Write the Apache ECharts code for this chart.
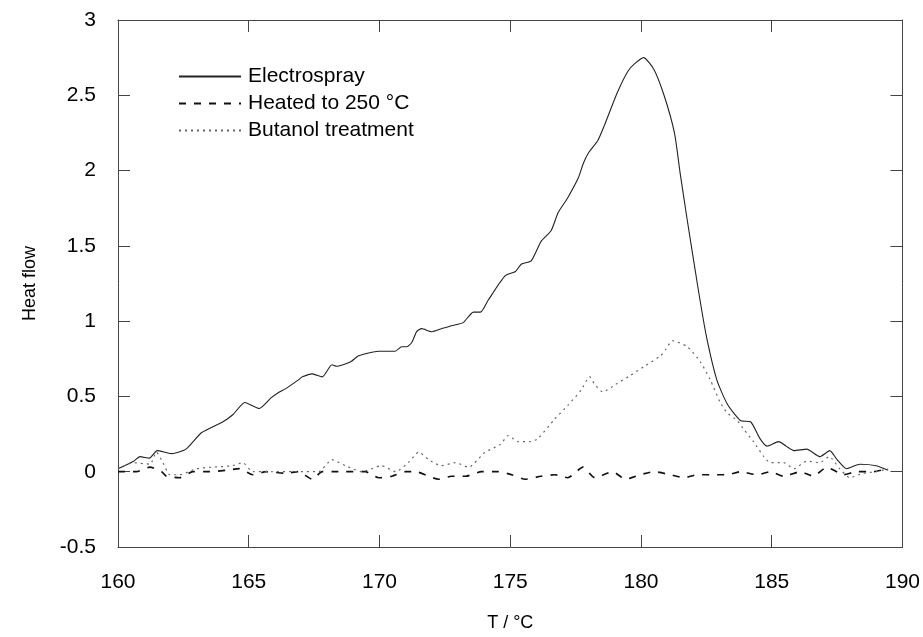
<!DOCTYPE html>
<html>
<head>
<meta charset="utf-8">
<script src="https://cdn.jsdelivr.net/npm/echarts@6/dist/echarts.min.js"></script>
<style>
html,body{margin:0;padding:0;background:#fff;}
#chart{width:923px;height:637px;}
</style>
</head>
<body>
<div id="chart"></div>
<script>
// Electrospray (solid)
const esT = [160.0,160.6,160.84,161.2,161.5,162.05,162.6,163.2,164.0,164.4,164.85,165.4,165.85,166.17,166.4,166.9,167.05,167.43,167.81,168.18,168.37,168.9,169.2,169.97,170.6,170.85,171.05,171.24,171.42,171.61,172.0,172.37,172.75,173.2,173.59,173.86,174.16,174.8,175.2,175.43,175.8,176.18,176.56,176.83,177.2,177.6,177.8,178.0,178.35,178.6,179.1,179.5,179.76,180.1,180.5,180.9,181.28,181.5,181.77,182.2,182.5,182.9,183.3,183.8,184.2,184.55,184.82,185.27,185.55,185.85,186.34,186.84,187.22,187.5,187.86,188.37,189.0,189.45];
const esY = [0.02,0.07,0.10,0.09,0.14,0.12,0.15,0.26,0.33,0.38,0.46,0.42,0.49,0.53,0.55,0.61,0.63,0.65,0.63,0.71,0.70,0.73,0.77,0.80,0.80,0.83,0.83,0.86,0.93,0.95,0.93,0.95,0.97,0.99,1.06,1.06,1.14,1.30,1.33,1.38,1.40,1.53,1.60,1.72,1.82,1.95,2.05,2.12,2.20,2.30,2.52,2.66,2.71,2.75,2.67,2.49,2.25,1.98,1.67,1.20,0.90,0.61,0.45,0.34,0.33,0.22,0.17,0.20,0.17,0.14,0.15,0.10,0.14,0.08,0.02,0.05,0.04,0.01];
// Heated to 250 °C (dashed)
const htT = [160.0,160.7,161.22,161.67,161.85,162.36,162.86,163.5,164.13,164.64,165.15,165.66,166.42,166.9,167.43,167.81,168.18,168.7,169.46,169.97,170.47,171.0,171.37,172.26,172.75,173.3,173.9,174.54,175.05,175.57,176.18,176.7,177.2,177.78,178.23,178.92,179.41,179.98,180.5,181.13,181.64,182.15,182.77,183.3,183.8,184.44,184.94,185.46,186.08,186.6,187.1,187.75,188.25,188.9,189.4];
const htY = [0.0,0.0,0.03,0.0,-0.03,-0.04,0.0,0.0,0.01,0.02,-0.02,0.0,-0.01,0.0,-0.05,0.0,0.0,0.0,0.0,-0.04,-0.03,0.0,0.0,-0.05,-0.03,-0.03,0.0,0.0,-0.02,-0.05,-0.03,-0.02,-0.04,0.03,-0.04,0.0,-0.05,-0.02,0.0,-0.02,-0.04,-0.02,-0.02,-0.02,0.0,-0.02,0.0,-0.03,0.0,-0.03,0.03,-0.02,0.0,0.0,0.02];
// Butanol treatment (dotted)
const buT = [160.0,160.58,161.22,161.47,161.72,161.98,162.36,163.0,163.6,164.38,164.77,165.15,165.9,166.67,167.2,167.68,168.18,168.7,169.33,170.08,170.62,171.1,171.5,171.88,172.37,172.9,173.4,174.04,174.62,174.92,175.3,175.76,176.06,176.7,177.2,177.7,178.04,178.23,178.54,179.03,179.6,180.13,180.75,180.94,181.2,181.77,182.27,182.65,183.03,183.3,183.68,183.94,184.3,184.7,184.94,185.46,185.85,186.34,186.84,187.2,187.6,187.98,188.5,189.0,189.45];
const buY = [0.02,0.06,0.05,0.13,0.06,-0.02,-0.02,0.02,0.03,0.04,0.06,0.0,0.0,0.0,0.0,0.0,0.08,0.04,0.0,0.04,0.0,0.06,0.13,0.08,0.04,0.06,0.03,0.13,0.18,0.24,0.20,0.20,0.22,0.35,0.44,0.54,0.63,0.58,0.53,0.58,0.64,0.70,0.77,0.81,0.87,0.83,0.73,0.61,0.46,0.39,0.34,0.28,0.20,0.10,0.06,0.06,0.02,0.07,0.06,0.10,0.02,-0.04,-0.01,0.00,0.02];
const seriesNames = ['Electrospray','Heated to 250 °C','Butanol treatment'];
const xTicks = {min:160, max:190, step:5};
const yTicks = {min:-0.5, max:3, step:0.5};

const zip = (a,b) => a.map((v,i) => [v,b[i]]);
const font = 'Liberation Sans, Arial, sans-serif';
const axisColor = '#444';

const chart = echarts.init(document.getElementById('chart'), null, {renderer:'canvas'});
const baseX = {
  type:'value', min:xTicks.min, max:xTicks.max, interval:xTicks.step,
  axisLine:{show:true, onZero:false, lineStyle:{color:axisColor, width:1}},
  axisTick:{show:true, inside:true, length:12, lineStyle:{color:axisColor}},
  splitLine:{show:false}
};
const baseY = {
  type:'value', min:yTicks.min, max:yTicks.max, interval:yTicks.step,
  axisLine:{show:true, onZero:false, lineStyle:{color:axisColor, width:1}},
  axisTick:{show:true, inside:true, length:12, lineStyle:{color:axisColor}},
  splitLine:{show:false}
};
chart.setOption({
  animation:false,
  backgroundColor:'#fff',
  grid:{left:118, right:17, top:20, bottom:89, containLabel:false},
  legend:{
    orient:'vertical', left:178, top:66, padding:0, itemWidth:62, itemHeight:14, itemGap:6,
    itemStyle:{opacity:0},
    textStyle:{fontFamily:font, fontSize:21, color:'#000', padding:[0,0,0,2]},
    data:seriesNames
  },
  xAxis:[
    Object.assign({}, baseX, {
      position:'bottom', name:'T / °C', nameLocation:'middle', nameGap:67,
      nameTextStyle:{fontFamily:font, fontSize:18, color:'#000'},
      axisLabel:{fontFamily:font, fontSize:21, color:'#000', margin:25}
    }),
    Object.assign({}, baseX, {position:'top', axisLabel:{show:false}})
  ],
  yAxis:[
    Object.assign({}, baseY, {
      position:'left', name:'Heat flow', nameLocation:'middle', nameGap:79,
      nameTextStyle:{fontFamily:font, fontSize:18, color:'#000'},
      axisLabel:{fontFamily:font, fontSize:21, color:'#000', margin:22}
    }),
    Object.assign({}, baseY, {position:'right', axisLabel:{show:false}})
  ],
  series:[
    {name:seriesNames[0], type:'line', data:zip(esT,esY), showSymbol:false, symbol:'none', smooth:0.2,
     lineStyle:{color:'#222', width:1.1, type:'solid'}, itemStyle:{color:'#222'}},
    {name:seriesNames[1], type:'line', data:zip(htT,htY), showSymbol:false, symbol:'none', smooth:0.2,
     lineStyle:{color:'#111', width:1.7, type:[7,8]}, itemStyle:{color:'#111'}},
    {name:seriesNames[2], type:'line', data:zip(buT,buY), showSymbol:false, symbol:'none', smooth:0.2,
     lineStyle:{color:'#666', width:1.2, type:[2,4]}, itemStyle:{color:'#666'}}
  ]
});
</script>
</body>
</html>
